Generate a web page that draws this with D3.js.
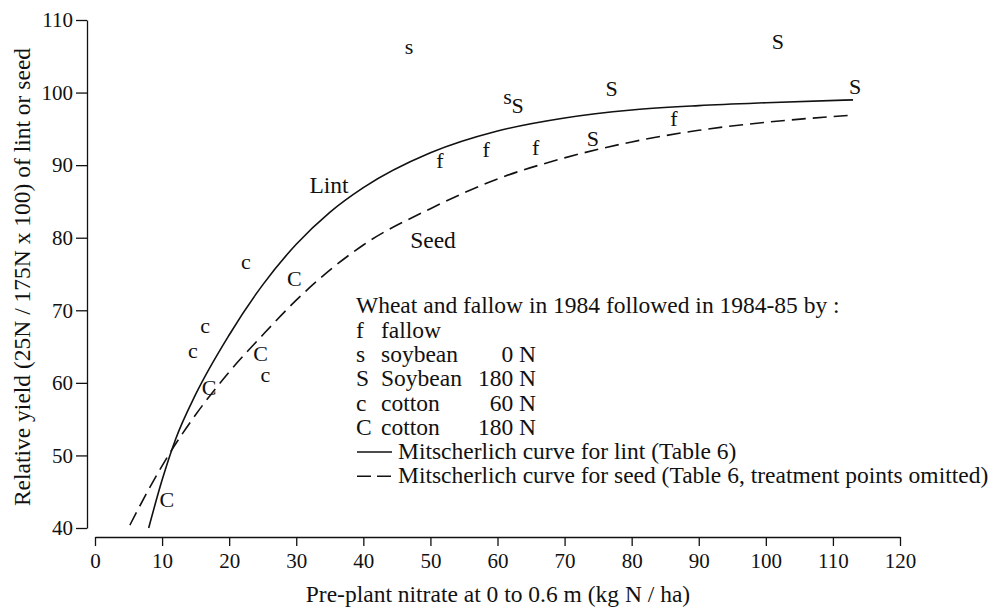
<!DOCTYPE html>
<html><head><meta charset="utf-8">
<script src="https://cdn.jsdelivr.net/npm/d3@7"></script>
<style>
html,body{margin:0;padding:0;background:#fff;}
text{font-family:"Liberation Serif","Times New Roman",serif;fill:#111;}
</style></head>
<body><svg id="c" width="994" height="608"></svg>
<script>
// ---- data ----
const xTicks = [0,10,20,30,40,50,60,70,80,90,100,110,120];
const yTicks = [40,50,60,70,80,90,100,110];

const pointSymbols = ["s","s","S","f","f","f","S","S","f","S","S","c","C","c","c","C","C","c","C"];
const pointX       = [46.8,61.5,63.0,51.4,58.3,65.7,74.2,77.0,86.3,101.8,113.3,22.5,29.7,16.4,14.6,17.0,24.7,25.4,10.7];
const pointY       = [106.1,99.1,98.2,90.6,92.1,92.5,93.7,100.6,96.4,107.0,100.8,76.4,74.4,67.6,64.1,59.4,64.1,60.9,43.9];

const lintX = [8,10,12,15,20,25,30,35,40,50,60,70,80,90,100,113];
const lintY = [40.0,46.6,52.2,58.4,66.6,73.5,79.1,83.5,86.9,91.7,94.7,96.5,97.6,98.2,98.6,99.0];

const seedX = [5.2,8,11,15,20,25,30,40,50,60,70,80,90,100,113];
const seedY = [40.4,45.3,50.1,55.6,61.5,66.6,71.4,79.0,84.0,88.1,91.0,93.2,94.8,95.9,96.9];

const legendTitle = "Wheat and fallow in 1984 followed in 1984-85 by :";
const legendSymbols = ["f","s","S","c","C"];
const legendNames   = ["fallow","soybean","Soybean","cotton","cotton"];
const legendRates   = ["","0 N","180 N","60 N","180 N"];
const lineLegend    = ["Mitscherlich curve for lint (Table 6)","Mitscherlich curve for seed (Table 6, treatment points omitted)"];

// ---- drawing ----
const svg = d3.select("#c");
const x = d3.scaleLinear().domain([0,120]).range([95,900]);
const y = d3.scaleLinear().domain([40,110]).range([528,20]);
const FS = 23.5;

// y axis
const gy = svg.append("g").attr("transform","translate(87,0)")
  .call(d3.axisLeft(y).tickValues(yTicks).tickSize(11).tickSizeOuter(0).tickPadding(3));
gy.select(".domain").attr("stroke","#111").attr("stroke-width",1.3);
gy.selectAll(".tick line").attr("stroke","#111").attr("stroke-width",1.3);
gy.selectAll(".tick text").attr("font-size",21).attr("font-family","Liberation Serif").attr("fill","#111");

// x axis
const gx = svg.append("g").attr("transform","translate(0,537)")
  .call(d3.axisBottom(x).tickValues(xTicks).tickSize(9).tickSizeOuter(0).tickPadding(7));
gx.select(".domain").attr("stroke","#111").attr("stroke-width",1.3);
gx.selectAll(".tick line").attr("stroke","#111").attr("stroke-width",1.3);
gx.selectAll(".tick text").attr("font-size",21).attr("font-family","Liberation Serif").attr("fill","#111");

// axis titles
svg.append("text").attr("x",498).attr("y",602).attr("text-anchor","middle")
  .attr("font-size",FS).text("Pre-plant nitrate at 0 to 0.6 m (kg N / ha)");
svg.append("text").attr("transform","translate(30,277) rotate(-90)").attr("text-anchor","middle")
  .attr("font-size",FS).text("Relative yield (25N / 175N x 100) of lint or seed");

// curves
const line = d3.line().x(d=>x(d[0])).y(d=>y(d[1])).curve(d3.curveMonotoneX);
svg.append("path").datum(lintX.map((v,i)=>[v,lintY[i]])).attr("d",line)
  .attr("fill","none").attr("stroke","#111").attr("stroke-width",1.6);
svg.append("path").datum(seedX.map((v,i)=>[v,seedY[i]])).attr("d",line)
  .attr("fill","none").attr("stroke","#111").attr("stroke-width",1.6).attr("stroke-dasharray","14,7");

// curve labels
svg.append("text").attr("x",329).attr("y",193).attr("text-anchor","middle").attr("font-size",FS).text("Lint");
svg.append("text").attr("x",433).attr("y",248).attr("text-anchor","middle").attr("font-size",FS).text("Seed");

// points
svg.append("g").selectAll("text").data(pointSymbols).join("text")
  .attr("x",(d,i)=>x(pointX[i])).attr("y",(d,i)=>y(pointY[i]))
  .attr("text-anchor","middle").attr("dominant-baseline","central")
  .attr("dy",d=>(d==="c"||d==="s")?"-0.1em":"0")
  .attr("font-size",22).text(d=>d);

// legend
const lg = svg.append("g");
lg.append("text").attr("x",356).attr("y",313).attr("font-size",FS).text(legendTitle);
legendSymbols.forEach((s,i)=>{
  const yy = 338 + i*24.2;
  lg.append("text").attr("x",356).attr("y",yy).attr("font-size",FS).text(s);
  lg.append("text").attr("x",381).attr("y",yy).attr("font-size",FS).text(legendNames[i]);
  lg.append("text").attr("x",536).attr("y",yy).attr("text-anchor","end").attr("font-size",FS).text(legendRates[i]);
});
lineLegend.forEach((t,i)=>{
  const yy = 459 + i*24.2;
  lg.append("line").attr("x1",357).attr("x2",392).attr("y1",yy-7).attr("y2",yy-7)
    .attr("stroke","#111").attr("stroke-width",1.6).attr("stroke-dasharray",i?"14,6":null);
  lg.append("text").attr("x",398).attr("y",yy).attr("font-size",FS).text(t);
});
</script></body></html>
